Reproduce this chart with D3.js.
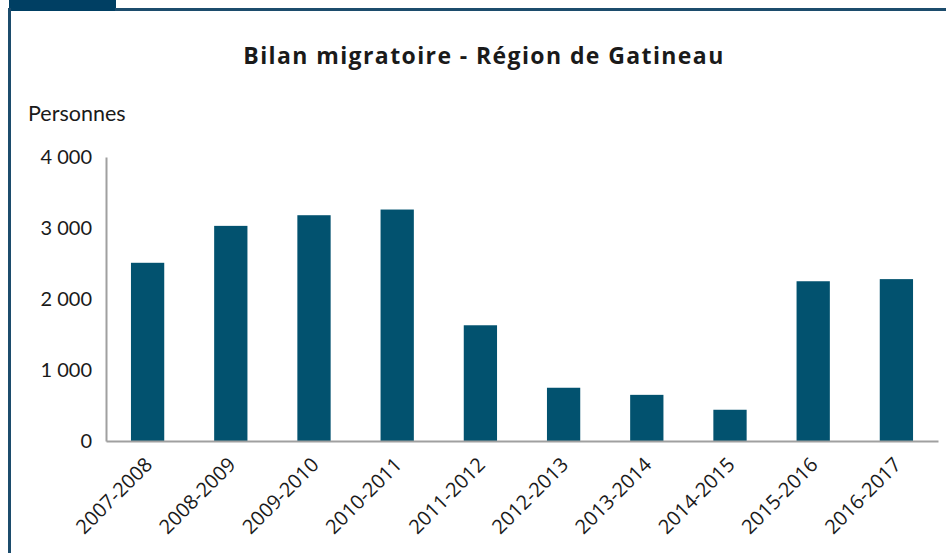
<!DOCTYPE html>
<html>
<head>
<meta charset="utf-8">
<script src="https://cdn.jsdelivr.net/npm/d3@7"></script>
<style>
  body { margin: 0; background: #fff; }
  svg { display: block; }
</style>
</head>
<body>
<div id="chart"></div>
<script>
// data
var categories = ["2007-2008", "2008-2009", "2009-2010", "2010-2011", "2011-2012",
                  "2012-2013", "2013-2014", "2014-2015", "2015-2016", "2016-2017"];
var values = [2510, 3030, 3180, 3260, 1630, 750, 650, 440, 2250, 2280];
var yTicks = [0, 1000, 2000, 3000, 4000];
var yTickLabels = ["0", "1 000", "2 000", "3 000", "4 000"];

function renderChart() {
    const width = 946, height = 553;
    const left = 106, right = 938, top = 157, bottom = 441;

    const svg = d3.select("#chart")
        .append("svg")
        .attr("width", width)
        .attr("height", height);

    // frame: tab + top and left rules
    svg.append("rect").attr("x", 9).attr("y", 0).attr("width", 107).attr("height", 11).attr("fill", "#003f63");
    svg.append("rect").attr("x", 115).attr("y", 8).attr("width", width - 115).attr("height", 3).attr("fill", "#1c4c6c");
    svg.append("rect").attr("x", 8).attr("y", 8).attr("width", 3).attr("height", height).attr("fill", "#1c4c6c");

    svg.append("text")
        .attr("x", 484)
        .attr("y", 64)
        .attr("text-anchor", "middle")
        .style("font-family", "Open Sans")
        .style("font-weight", "bold")
        .style("font-size", "23px")
        .style("letter-spacing", "1.4px")
        .attr("fill", "#1a1a1a")
        .text("Bilan migratoire - Région de Gatineau");

    svg.append("text")
        .attr("x", 28)
        .attr("y", 121)
        .style("font-family", "Lato")
        .style("font-size", "21.5px")
        .attr("fill", "#1a1a1a")
        .text("Personnes");

    const x = d3.scaleBand()
        .domain(categories)
        .range([left, right])
        .paddingInner(0.6)
        .paddingOuter(0.3);

    const y = d3.scaleLinear()
        .domain([0, 4000])
        .range([bottom, top]);

    svg.selectAll(".bar")
        .data(values)
        .enter()
        .append("rect")
        .attr("class", "bar")
        .attr("x", (d, i) => x(categories[i]))
        .attr("y", d => y(d))
        .attr("width", x.bandwidth())
        .attr("height", d => bottom - y(d))
        .attr("fill", "#02526f");

    const yAxis = svg.append("g")
        .attr("transform", `translate(${left},0)`)
        .call(d3.axisLeft(y).tickValues(yTicks).tickSize(0).tickPadding(14)
            .tickFormat((d, i) => yTickLabels[i]));
    yAxis.select(".domain").attr("stroke", "#a0a0a0").attr("stroke-width", 2);
    yAxis.selectAll("text")
        .style("font-family", "Lato")
        .style("font-size", "20px")
        .attr("fill", "#1a1a1a");

    const xAxis = svg.append("g")
        .attr("transform", `translate(0,${bottom})`)
        .call(d3.axisBottom(x).tickSize(0).tickPadding(0));
    xAxis.select(".domain").attr("stroke", "#a0a0a0").attr("stroke-width", 2);
    xAxis.selectAll("text")
        .style("font-family", "Open Sans")
        .style("font-size", "20px")
        .attr("fill", "#1a1a1a")
        .attr("text-anchor", "end")
        .attr("dy", "0")
        .attr("transform", "translate(6,25) rotate(-45)");
}

renderChart();
</script>
</body>
</html>
